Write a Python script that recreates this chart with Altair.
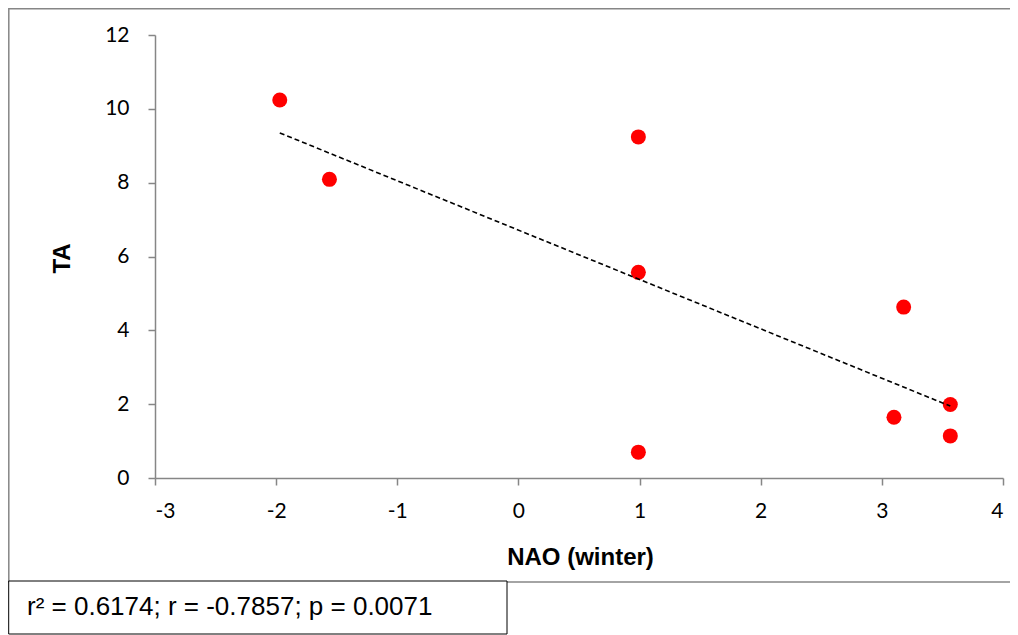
import altair as alt
import pandas as pd

# Data
nao = [-1.97, -1.56, 0.99, 0.99, 0.99, 3.18, 3.10, 3.565, 3.565]
ta = [10.24, 8.09, 9.24, 5.57, 0.70, 4.63, 1.645, 1.99, 1.14]
x_ticks = [-3, -2, -1, 0, 1, 2, 3, 4]
y_ticks = [0, 2, 4, 6, 8, 10, 12]
x_title = "NAO (winter)"
y_title = "TA"
stats_text = "r\u00b2 = 0.6174; r = -0.7857; p = 0.0071"

df = pd.DataFrame({"nao": nao, "ta": ta})

W, H = 848, 443
AXIS_GRAY = "#868686"

xs = alt.Scale(domain=[-3, 4], nice=False, zero=False)
ys = alt.Scale(domain=[0, 12], nice=False)

x_axis = alt.Axis(values=x_ticks, title=x_title, titleX=425, titleY=86,
                  titleBaseline="alphabetic", titleAlign="center", labelPadding=15,
                  labelExpr="'' + datum.value")
y_axis = alt.Axis(values=y_ticks, title=y_title, titleX=-93, titleY=223,
                  titleAngle=-90, titleBaseline="middle", titleAlign="center",
                  labelPadding=19, labelExpr="'' + datum.value")

one = alt.Data(values=[{"k": 1}])

border = alt.Chart(one).mark_rect(
    fill="transparent", stroke=AXIS_GRAY, strokeWidth=1.5
).encode(
    x=alt.value(-146.2), x2=alt.value(870), y=alt.value(-26.2), y2=alt.value(547)
)

points = alt.Chart(df).mark_circle(color="#FF0000", opacity=1, size=225).encode(
    x=alt.X("nao:Q", scale=xs, axis=x_axis),
    y=alt.Y("ta:Q", scale=ys, axis=y_axis),
)

trend = alt.Chart(df).transform_regression("nao", "ta").mark_line(
    color="black", strokeWidth=1.6, strokeDash=[5, 3]
).encode(
    x=alt.X("nao:Q", scale=xs),
    y=alt.Y("ta:Q", scale=ys),
)

box = alt.Chart(one).mark_rect(
    fill="white", stroke="black", strokeWidth=1
).encode(
    x=alt.value(-146.3), x2=alt.value(352), y=alt.value(546), y2=alt.value(599)
)

label = alt.Chart(one).mark_text(
    text=stats_text, align="left", baseline="alphabetic",
    font="Liberation Sans", fontSize=26, color="black"
).encode(x=alt.value(-128), y=alt.value(580))

chart = alt.layer(border, points, trend, box, label).properties(
    width=W, height=H,
    padding={"left": 147, "top": 27, "right": 7, "bottom": 157},
    autosize=alt.AutoSizeParams(type="none"),
    background="white",
).configure_view(stroke=None).configure_axis(
    grid=False,
    domainColor=AXIS_GRAY, domainWidth=1.5,
    tickColor=AXIS_GRAY, tickWidth=1.5, tickSize=7,
    labelFont="Lato", labelFontSize=21, labelColor="black",
    titleFont="Liberation Sans", titleFontSize=24, titleFontWeight="bold",
    titleColor="black",
)

chart.save("out.html", embed_options={"renderer": "svg", "actions": False})
